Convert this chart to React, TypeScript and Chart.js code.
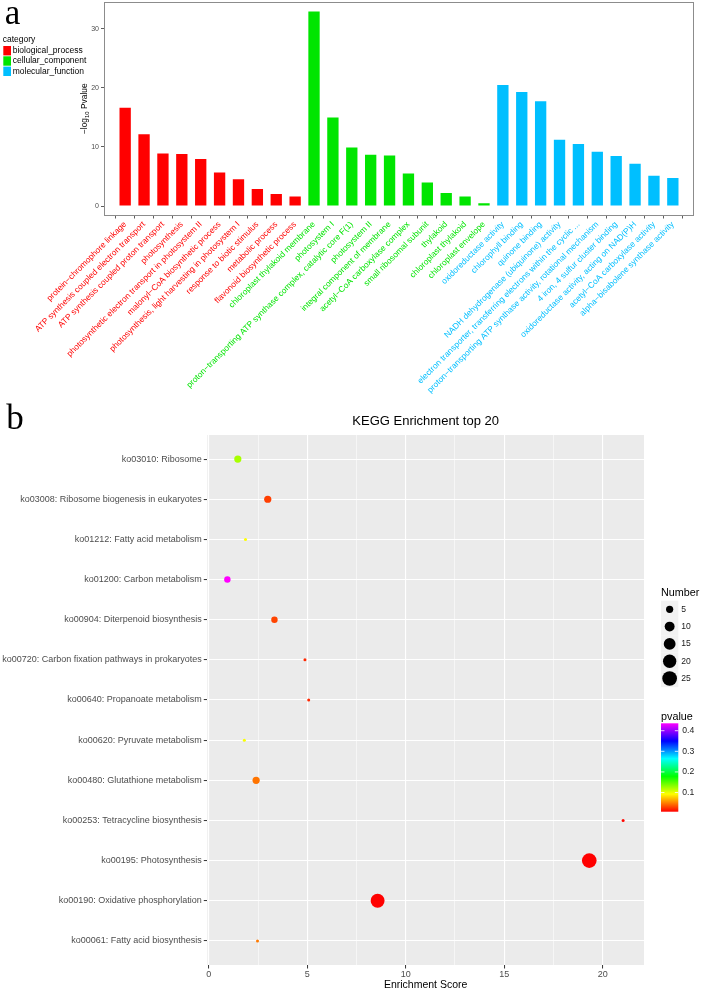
import React, { useEffect, useRef } from "react";
import { Chart, registerables } from "chart.js";

Chart.register(...registerables);

// ---------------- Panel a data ----------------
const bpTerms = [
  "protein−chromophore linkage",
  "ATP synthesis coupled electron transport",
  "ATP synthesis coupled proton transport",
  "photosynthesis",
  "photosynthetic electron transport in photosystem II",
  "malonyl−CoA biosynthetic process",
  "photosynthesis, light harvesting in photosystem I",
  "response to biotic stimulus",
  "metabolic process",
  "flavonoid biosynthetic process",
];
const bpValues = [16.6, 12.15, 8.9, 8.8, 7.95, 5.65, 4.55, 2.9, 2.05, 1.6];

const ccTerms = [
  "chloroplast thylakoid membrane",
  "photosystem I",
  "proton−transporting ATP synthase complex, catalytic core F(1)",
  "photosystem II",
  "integral component of membrane",
  "acetyl−CoA carboxylase complex",
  "small ribosomal subunit",
  "thylakoid",
  "chloroplast thylakoid",
  "chloroplast envelope",
];
const ccValues = [32.9, 14.95, 9.9, 8.67, 8.55, 5.52, 4.0, 2.22, 1.6, 0.47];

const mfTerms = [
  "oxidoreductase activity",
  "chlorophyll binding",
  "quinone binding",
  "NADH dehydrogenase (ubiquinone) activity",
  "electron transporter, transferring electrons within the cyclic ...",
  "proton−transporting ATP synthase activity, rotational mechanism",
  "4 iron, 4 sulfur cluster binding",
  "oxidoreductase activity, acting on NAD(P)H",
  "acetyl−CoA carboxylase activity",
  "alpha−bisabolene synthase activity",
];
const mfValues = [20.45, 19.28, 17.7, 11.2, 10.47, 9.18, 8.45, 7.15, 5.13, 4.75];

const categoryNames = ["biological_process", "cellular_component", "molecular_function"];
const yTicksA = [0, 10, 20, 30];

// ---------------- Panel b data ----------------
const keggTerms = [
  "ko03010: Ribosome",
  "ko03008: Ribosome biogenesis in eukaryotes",
  "ko01212: Fatty acid metabolism",
  "ko01200: Carbon metabolism",
  "ko00904: Diterpenoid biosynthesis",
  "ko00720: Carbon fixation pathways in prokaryotes",
  "ko00640: Propanoate metabolism",
  "ko00620: Pyruvate metabolism",
  "ko00480: Glutathione metabolism",
  "ko00253: Tetracycline biosynthesis",
  "ko00195: Photosynthesis",
  "ko00190: Oxidative phosphorylation",
  "ko00061: Fatty acid biosynthesis",
];
const keggScores = [1.47, 2.99, 1.86, 0.94, 3.33, 4.88, 5.07, 1.8, 2.4, 21.04, 19.32, 8.57, 2.47];
const keggNumbers = [5, 5, 2, 4, 4, 2, 2, 2, 5, 2, 25, 22, 2];
const keggPvalues = [0.122, 0.028, 0.093, 0.436, 0.03, 0.02, 0.02, 0.095, 0.046, 0.009, 0.007, 0.0075, 0.048];
const xTicksB = [0, 5, 10, 15, 20];
const xMinorB = [2.5, 7.5, 12.5, 17.5];
const numberBreaks = [5, 10, 15, 20, 25];
const pvalueBreaks = [0.1, 0.2, 0.3, 0.4];

// ---------------- styling helpers ----------------
const SANS = "'Liberation Sans', Arial, Helvetica, sans-serif";
const SERIF = "'Liberation Serif', 'Times New Roman', serif";
const CAT_COLORS = ["#FF0000", "#00E500", "#00BFFF"];

const allTerms = [...bpTerms, ...ccTerms, ...mfTerms];
const allValues = [...bpValues, ...ccValues, ...mfValues];
const allGroups = [
  ...bpTerms.map(() => 0),
  ...ccTerms.map(() => 1),
  ...mfTerms.map(() => 2),
];

const RAINBOW: number[][] = [
  [255, 0, 0],
  [255, 255, 0],
  [0, 255, 0],
  [0, 255, 255],
  [0, 0, 255],
  [255, 0, 255],
];
const pMin = Math.min(...keggPvalues);
const pMax = Math.max(...keggPvalues);
function pColor(p: number): string {
  let t = (p - pMin) / (pMax - pMin);
  t = Math.max(0, Math.min(1, t));
  const s = t * (RAINBOW.length - 1);
  const i = Math.min(Math.floor(s), RAINBOW.length - 2);
  const f = s - i;
  const a = RAINBOW[i];
  const b = RAINBOW[i + 1];
  const c = a.map((v, k) => Math.round(v + (b[k] - v) * f));
  return `rgb(${c[0]},${c[1]},${c[2]})`;
}
const nMin = Math.min(...keggNumbers);
const nMax = Math.max(...keggNumbers);
function bubbleDiameter(n: number): number {
  const t = Math.max(0, (n - nMin) / (nMax - nMin));
  return 3.0 + 11.7 * Math.sqrt(t);
}

// ---------------- plugins ----------------
const panelAPlugin = {
  id: "panelA",
  afterDraw(chart: any) {
    const { ctx, chartArea: ca } = chart;
    ctx.save();
    // panel border
    ctx.strokeStyle = "#8C8C8C";
    ctx.lineWidth = 1;
    const x0 = Math.round(ca.left) + 0.5;
    const y0 = Math.round(ca.top) + 0.5;
    const x1 = Math.round(ca.right) - 0.5;
    const y1 = Math.round(ca.bottom) - 0.5;
    ctx.strokeRect(x0, y0, x1 - x0, y1 - y0);

    // y axis title: −log10 Pvalue
    ctx.translate(85, (ca.top + ca.bottom) / 2);
    ctx.rotate(-Math.PI / 2);
    const f1 = `8.4px ${SANS}`;
    const f2 = `6px ${SANS}`;
    ctx.font = f1;
    const w1 = ctx.measureText("−log").width;
    const w3 = ctx.measureText(" Pvalue").width;
    ctx.font = f2;
    const w2 = ctx.measureText("10").width;
    let x = -(w1 + w2 + w3) / 2;
    ctx.fillStyle = "#000";
    ctx.textBaseline = "middle";
    ctx.textAlign = "left";
    ctx.font = f1;
    ctx.fillText("−log", x, 0);
    x += w1;
    ctx.font = f2;
    ctx.fillText("10", x, 2.2);
    x += w2;
    ctx.font = f1;
    ctx.fillText(" Pvalue", x, 0);
    ctx.restore();

    // legend
    ctx.save();
    ctx.textBaseline = "middle";
    ctx.textAlign = "left";
    ctx.fillStyle = "#000";
    ctx.font = `8.5px ${SANS}`;
    ctx.fillText("category", 2.7, 40);
    categoryNames.forEach((name, i) => {
      const cy = 50.7 + i * 10.3;
      ctx.fillStyle = CAT_COLORS[i];
      ctx.fillRect(3.3, cy - 4.7, 7.7, 9.4);
      ctx.fillStyle = "#000";
      ctx.fillText(name, 12.7, cy);
    });
    ctx.restore();
  },
};

const panelBPlugin = {
  id: "panelB",
  beforeDraw(chart: any) {
    const { ctx, chartArea: ca } = chart;
    ctx.save();
    ctx.fillStyle = "#EBEBEB";
    ctx.fillRect(ca.left, ca.top, ca.right - ca.left, ca.bottom - ca.top);
    ctx.restore();
  },
  afterDraw(chart: any) {
    const { ctx, chartArea: ca } = chart;
    const lx = ca.right + 17;
    const key = 17.3;
    ctx.save();
    ctx.textBaseline = "middle";
    ctx.textAlign = "left";
    // size legend
    ctx.fillStyle = "#000";
    ctx.font = `10.8px ${SANS}`;
    ctx.fillText("Number", lx, ca.top + 157.7);
    numberBreaks.forEach((n, i) => {
      const cy = ca.top + 174.3 + i * key;
      ctx.fillStyle = "#F2F2F2";
      ctx.fillRect(lx, cy - key / 2, key, key);
      ctx.fillStyle = "#000";
      ctx.beginPath();
      ctx.arc(lx + key / 2, cy, bubbleDiameter(n) / 2, 0, Math.PI * 2);
      ctx.fill();
      ctx.fillStyle = "#1A1A1A";
      ctx.font = `8.6px ${SANS}`;
      ctx.fillText(String(n), lx + key + 3, cy);
    });
    // colour bar legend
    ctx.fillStyle = "#000";
    ctx.font = `10.8px ${SANS}`;
    ctx.fillText("pvalue", lx, ca.top + 281.7);
    const barTop = ca.top + 288.3;
    const barBot = ca.top + 376.7;
    const barW = 17.3;
    const grad = ctx.createLinearGradient(0, barBot, 0, barTop);
    RAINBOW.forEach((c, i) => grad.addColorStop(i / (RAINBOW.length - 1), `rgb(${c.join(",")})`));
    ctx.fillStyle = grad;
    ctx.fillRect(lx, barTop, barW, barBot - barTop);
    pvalueBreaks.forEach((p) => {
      const y = barBot - ((p - pMin) / (pMax - pMin)) * (barBot - barTop);
      ctx.strokeStyle = "#FFFFFF";
      ctx.lineWidth = 0.8;
      ctx.beginPath();
      ctx.moveTo(lx, y);
      ctx.lineTo(lx + barW * 0.2, y);
      ctx.moveTo(lx + barW * 0.8, y);
      ctx.lineTo(lx + barW, y);
      ctx.stroke();
      ctx.fillStyle = "#1A1A1A";
      ctx.font = `8.6px ${SANS}`;
      ctx.fillText(String(p), lx + barW + 4, y);
    });
    ctx.restore();
  },
};

export default function App() {
  const refA = useRef<HTMLCanvasElement | null>(null);
  const refB = useRef<HTMLCanvasElement | null>(null);

  useEffect(() => {
    if (!refA.current || !refB.current) return;

    const chartA = new Chart(refA.current, {
      type: "bar",
      data: {
        datasets: [
          {
            data: allValues.map((v, i) => ({ x: i, y: v })),
            backgroundColor: allGroups.map((g) => CAT_COLORS[g]),
            borderWidth: 0,
            barPercentage: 0.6,
            categoryPercentage: 1.0,
          },
        ],
      },
      options: {
        animation: false,
        responsive: false,
        devicePixelRatio: 1,
        events: [],
        layout: { padding: { top: 2, right: 8, left: 0, bottom: 0 } },
        plugins: { legend: { display: false }, tooltip: { enabled: false }, title: { display: false } },
        scales: {
          x: {
            type: "linear",
            min: -0.6,
            max: allTerms.length - 1 + 0.6,
            afterBuildTicks: (scale: any) => {
              scale.ticks = allTerms.map((_, i) => ({ value: i }));
            },
            afterFit: (scale: any) => {
              scale.height = 400 - 215.5;
            },
            grid: {
              display: true,
              drawOnChartArea: false,
              drawTicks: true,
              tickLength: 3,
              color: "#333333",
              tickColor: "#333333",
              tickWidth: 0.8,
            },
            border: { display: false },
            ticks: {
              autoSkip: false,
              minRotation: 45,
              maxRotation: 45,
              padding: 1,
              font: { family: SANS, size: 8.4 },
              color: (ctx: any) => CAT_COLORS[allGroups[Math.round(ctx.tick.value)]],
              callback: (v: any) => allTerms[Math.round(Number(v))],
            },
          },
          y: {
            type: "linear",
            min: -1.6,
            max: 34.5,
            afterBuildTicks: (scale: any) => {
              scale.ticks = yTicksA.map((v) => ({ value: v }));
            },
            afterFit: (scale: any) => {
              scale.width = 104;
              scale.paddingTop = 0;
              scale.paddingBottom = 0;
            },
            grid: {
              display: true,
              drawOnChartArea: false,
              drawTicks: true,
              tickLength: 3,
              color: "#333333",
              tickColor: "#333333",
              tickWidth: 0.8,
            },
            border: { display: false },
            ticks: {
              padding: 2,
              font: { family: SANS, size: 7 },
              color: "#4D4D4D",
              callback: (v: any) => String(v),
            },
          },
        },
      },
      plugins: [panelAPlugin],
    } as any);

    const chartB = new Chart(refB.current, {
      type: "bubble",
      data: {
        datasets: [
          {
            data: keggTerms.map((_, i) => ({
              x: keggScores[i],
              y: i,
              r: bubbleDiameter(keggNumbers[i]) / 2,
            })),
            backgroundColor: keggPvalues.map(pColor),
            borderWidth: 0,
          },
        ],
      },
      options: {
        animation: false,
        responsive: false,
        devicePixelRatio: 1,
        events: [],
        layout: { padding: { top: 0, right: 58, left: 0, bottom: 0 } },
        plugins: {
          legend: { display: false },
          tooltip: { enabled: false },
          title: {
            display: true,
            text: "KEGG Enrichment top 20",
            fullSize: false,
            color: "#000",
            font: { family: SANS, size: 13, weight: "normal" },
            padding: { top: 19, bottom: 5.4 },
          },
        },
        scales: {
          x: {
            type: "linear",
            min: -0.08,
            max: 22.1,
            afterBuildTicks: (scale: any) => {
              scale.ticks = [...xTicksB, ...xMinorB]
                .sort((a, b) => a - b)
                .map((v) => ({ value: v }));
            },
            afterFit: (scale: any) => {
              scale.height = 26;
            },
            grid: {
              display: true,
              drawOnChartArea: true,
              drawTicks: true,
              tickLength: 3.5,
              color: "#FFFFFF",
              lineWidth: (ctx: any) => (xTicksB.includes(ctx.tick?.value) ? 1.1 : 0.55),
              tickColor: (ctx: any) => (xTicksB.includes(ctx.tick?.value) ? "#333333" : "rgba(0,0,0,0)"),
              tickWidth: 1,
            },
            border: { display: false },
            ticks: {
              autoSkip: false,
              maxRotation: 0,
              minRotation: 0,
              padding: 1,
              font: { family: SANS, size: 9 },
              color: "#4D4D4D",
              callback: (v: any) => (xTicksB.includes(Number(v)) ? String(v) : ""),
            },
            title: {
              display: true,
              text: "Enrichment Score",
              color: "#000",
              font: { family: SANS, size: 10.5 },
              padding: { top: 0, bottom: 0 },
            },
          },
          y: {
            type: "linear",
            reverse: true,
            min: -0.6,
            max: keggTerms.length - 1 + 0.6,
            afterBuildTicks: (scale: any) => {
              scale.ticks = keggTerms.map((_, i) => ({ value: i }));
            },
            afterFit: (scale: any) => {
              scale.width = 207.3;
              scale.paddingTop = 0;
              scale.paddingBottom = 0;
            },
            grid: {
              display: true,
              drawOnChartArea: true,
              drawTicks: true,
              tickLength: 3.5,
              color: "#FFFFFF",
              lineWidth: 1.1,
              tickColor: "#333333",
              tickWidth: 1,
            },
            border: { display: false },
            ticks: {
              autoSkip: false,
              padding: 2,
              font: { family: SANS, size: 9 },
              color: "#4D4D4D",
              callback: (v: any) => keggTerms[Math.round(Number(v))],
            },
          },
        },
      },
      plugins: [panelBPlugin],
    } as any);

    return () => {
      chartA.destroy();
      chartB.destroy();
    };
  }, []);

  return (
    <div
      style={{
        position: "absolute",
        left: 0,
        top: 0,
        width: 702,
        height: 991,
        background: "#FFFFFF",
        overflow: "hidden",
      }}
    >
      <canvas
        ref={refA}
        width={702}
        height={400}
        style={{ position: "absolute", left: 0, top: 0, width: 702, height: 400 }}
      />
      <canvas
        ref={refB}
        width={702}
        height={596}
        style={{ position: "absolute", left: 0, top: 395, width: 702, height: 596 }}
      />
      <div
        style={{
          position: "absolute",
          left: 4.7,
          top: -5.3,
          font: `35px ${SERIF}`,
          lineHeight: "35px",
          color: "#000",
        }}
      >
        a
      </div>
      <div
        style={{
          position: "absolute",
          left: 6.3,
          top: 399.7,
          font: `35px ${SERIF}`,
          lineHeight: "35px",
          color: "#000",
        }}
      >
        b
      </div>
    </div>
  );
}
